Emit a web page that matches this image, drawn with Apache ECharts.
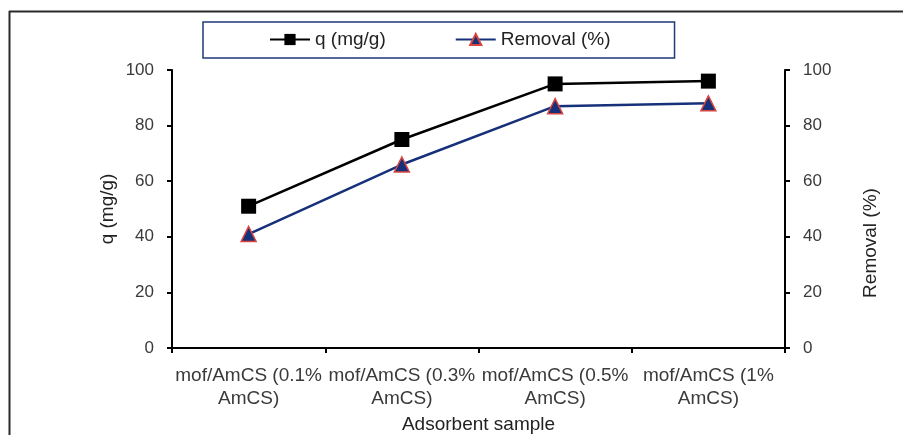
<!DOCTYPE html>
<html>
<head>
<meta charset="utf-8">
<script src="https://cdn.jsdelivr.net/npm/echarts@6/dist/echarts.min.js"></script>
<style>
  html, body { margin: 0; padding: 0; background: #fff; }
  #chart { width: 903px; height: 435px; }
</style>
</head>
<body>
<div id="chart"></div>
<script>
// Adsorbent samples on the category axis
const samples = [
  'mof/AmCS (0.1%\nAmCS)',
  'mof/AmCS (0.3%\nAmCS)',
  'mof/AmCS (0.5%\nAmCS)',
  'mof/AmCS (1%\nAmCS)'
];
// Adsorption capacity, mg/g (left axis)
const capacity = [51, 75, 95, 96];
// Removal efficiency, % (right axis)
const removal = [41, 66, 87, 88];
// Shared value-axis ticks
const yTicks = [0, 20, 40, 60, 80, 100];

const FONT = 'Liberation Sans';
const TXT = '#3a3a3a';
const TEXT_SIZE = 19;
const NUM_SIZE = 17;

const chart = echarts.init(document.getElementById('chart'), null, { renderer: 'canvas' });

const valueAxis = (name, pos, gap, namePad) => ({
  type: 'value',
  position: pos,
  min: yTicks[0],
  max: yTicks[yTicks.length - 1],
  interval: yTicks[1] - yTicks[0],
  name: name,
  nameLocation: 'middle',
  nameGap: gap,
  nameMoveOverlap: false,
  nameTextStyle: { fontFamily: FONT, fontSize: TEXT_SIZE, color: '#222', padding: namePad },
  axisLine: { show: true, lineStyle: { color: '#000', width: 2 } },
  axisTick: { show: true, length: 5, lineStyle: { color: '#000', width: 2 } },
  axisLabel: { fontFamily: FONT, fontSize: NUM_SIZE, color: TXT, margin: 18 },
  splitLine: { show: false }
});

chart.setOption({
  animation: false,
  backgroundColor: '#fff',
  textStyle: { fontFamily: FONT },
  grid: {
    left: 172, right: 118, top: 70, bottom: 87,
    containLabel: false, outerBoundsMode: 'none'
  },
  legend: {
    left: 203,
    top: 22,
    padding: [8, 64, 9, 66],
    borderColor: '#1f3a7a',
    borderWidth: 1.5,
    itemWidth: 40,
    itemHeight: 14,
    itemGap: 69,
    textStyle: { fontFamily: FONT, fontSize: TEXT_SIZE, color: '#222' },
    data: ['q (mg/g)', 'Removal (%)']
  },
  xAxis: {
    type: 'category',
    data: samples,
    boundaryGap: true,
    name: 'Adsorbent sample',
    nameLocation: 'middle',
    nameGap: 57,
    nameTextStyle: { fontFamily: FONT, fontSize: TEXT_SIZE, color: '#222' },
    axisLine: { lineStyle: { color: '#000', width: 2 } },
    axisTick: { show: true, length: 5, lineStyle: { color: '#000', width: 2 } },
    axisLabel: {
      fontFamily: FONT, fontSize: TEXT_SIZE, color: TXT, margin: 16,
      lineHeight: 23, interval: 0
    }
  },
  yAxis: [
    valueAxis('q (mg/g)', 'left', 55, [0, 0, 0, 0]),
    valueAxis('Removal (%)', 'right', 76, [0, 68, 0, 0])
  ],
  series: [
    {
      name: 'q (mg/g)',
      type: 'line',
      yAxisIndex: 0,
      data: capacity,
      symbol: 'rect',
      symbolSize: 15,
      color: '#000',
      lineStyle: { color: '#000', width: 2.5 },
      itemStyle: { color: '#000' },
      z: 3
    },
    {
      name: 'Removal (%)',
      type: 'line',
      yAxisIndex: 1,
      data: removal,
      symbol: 'triangle',
      symbolSize: 15,
      color: '#17307a',
      lineStyle: { color: '#17307a', width: 2.5 },
      itemStyle: { color: '#17307a', borderColor: '#d9453f', borderWidth: 1.5 },
      z: 4
    }
  ],
  graphic: [
    // frame along the top and left edges of the panel
    { type: 'line', silent: true, shape: { x1: 9.5, y1: 11, x2: 9.5, y2: 435 },
      style: { stroke: '#2a2a2a', lineWidth: 2 } },
    { type: 'line', silent: true, shape: { x1: 9, y1: 11.5, x2: 903, y2: 11.5 },
      style: { stroke: '#2a2a2a', lineWidth: 2 } }
  ]
});
</script>
</body>
</html>
